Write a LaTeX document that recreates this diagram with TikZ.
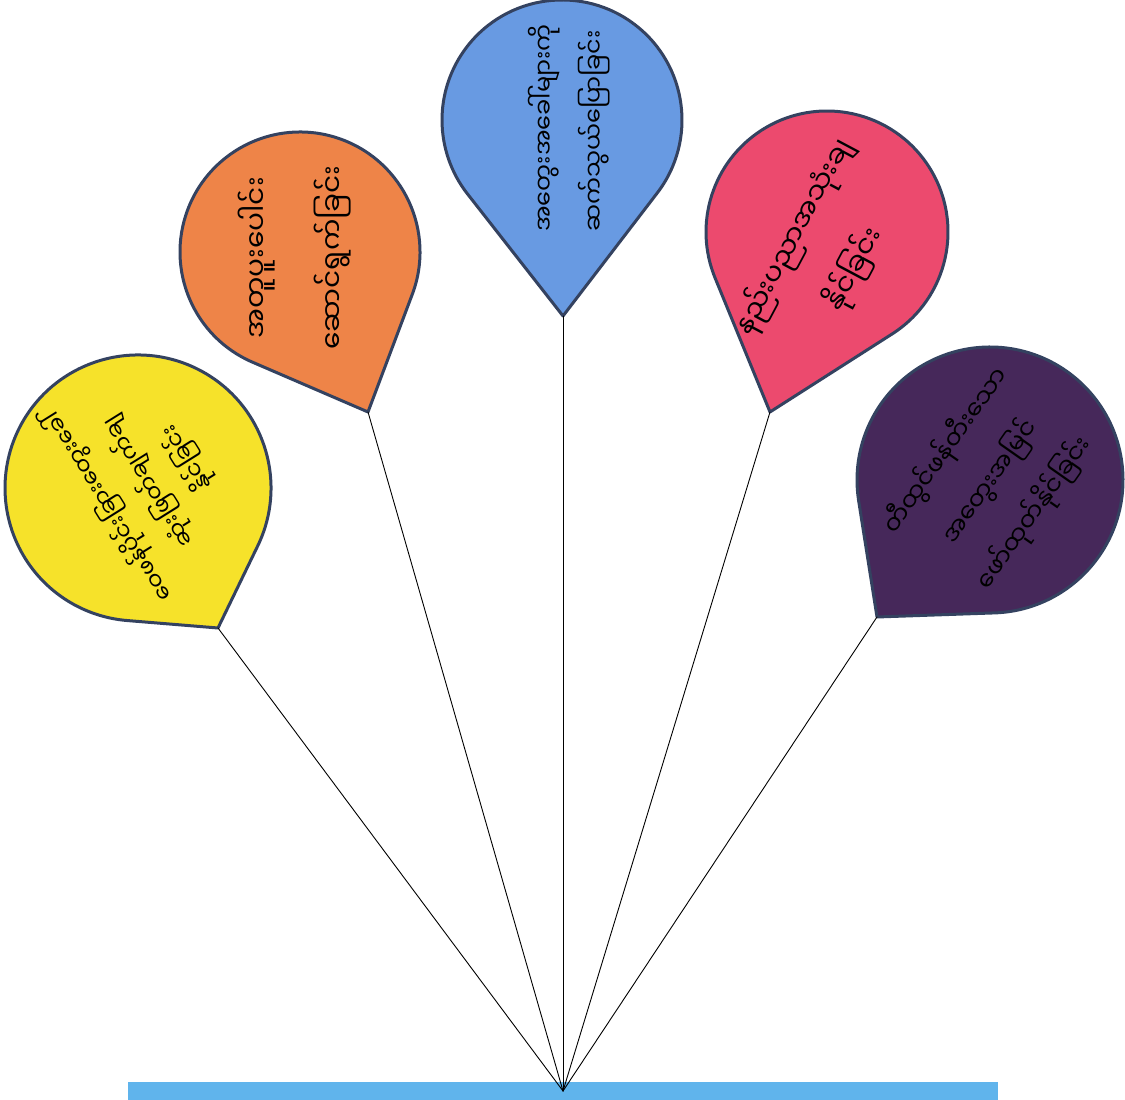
\documentclass[tikz,border=0pt]{standalone}
\usepackage{fontspec}
\newfontfamily\mmfont[Script=Myanmar]{Noto Sans Myanmar UI}
\usetikzlibrary{calc}
\definecolor{ylw}{RGB}{246,226,42}
\definecolor{org}{RGB}{238,132,72}
\definecolor{blu}{RGB}{104,154,226}
\definecolor{pnk}{RGB}{236,74,110}
\definecolor{prp}{RGB}{70,40,90}
\definecolor{rim}{RGB}{52,66,96}
\definecolor{bar}{RGB}{96,180,236}
\tikzset{
  balloon/.style={draw=rim, line width=3pt, line join=round},
  tether/.style={line width=0.9pt, black},
  btext/.style={font=\mmfont\fontsize{28}{#1}\selectfont, align=center, inner sep=0pt, text=black},
  btext/.default=48
}
\begin{document}
\begin{tikzpicture}[x=1pt,y=1pt, line join=round, line cap=round]
\useasboundingbox (0,0) rectangle (1125,1100);
\fill[bar] (128,0) rectangle (998,18);
\coordinate (base) at (563,9);
\foreach \n/\cx/\cy/\r/\tx/\ty/\c in {yellow/138/612/133/218/472/ylw, orange/300/848/120/368/688/org, blue/562/980/120/563/784/blu, pink/827/868/121/770/688/pnk, purple/990/620/133/877/483/prp}{
  \pgfmathsetmacro\ang{atan2(\ty-\cy,\tx-\cx)}
  \pgfmathsetmacro\dd{veclen(\tx-\cx,\ty-\cy)}
  \pgfmathsetmacro\al{acos(\r/\dd)}
  \coordinate (tip-\n) at (\tx,\ty);
  \filldraw[balloon, fill=\c] (tip-\n) -- ($(\cx,\cy)+(\ang+\al:\r)$) arc[start angle=\ang+\al, end angle=\ang+360-\al, radius=\r] -- cycle;
  \draw[tether] (tip-\n) -- (base);
}
\node[btext, font=\mmfont\fontsize{23}{46}\selectfont, rotate=122] (t-yellow) at (148,618) {ဝေဖန်ပိုင်းခြားတွေးခေါ်\\ဆုံးဖြတ်ချက်ချ\\နိုင်ခြင်း};
\node[btext=76, rotate=90] (t-orange) at (295,842) {အတူပူးပေါင်း\\ဆောင်ရွက်ခြင်း};
\node[btext, font=\mmfont\fontsize{24}{50}\selectfont, rotate=90, align=left] (t-blue) at (569,972) {အတွေးအခေါ်များကို\\ဆက်သွယ်ပြောခြင်း};
\node[btext=68, rotate=62] (t-pink) at (824,847) {နည်းပညာအသုံးချ\\နိုင်ခြင်း};
\node[btext, font=\mmfont\fontsize{25}{54}\selectfont, rotate=55] (t-purple) at (990,618) {တီထွင်ဖန်တီးသော\\အတွေးအမြင်\\ဖော်ထုတ်နိုင်ခြင်း};
\end{tikzpicture}
\end{document}
